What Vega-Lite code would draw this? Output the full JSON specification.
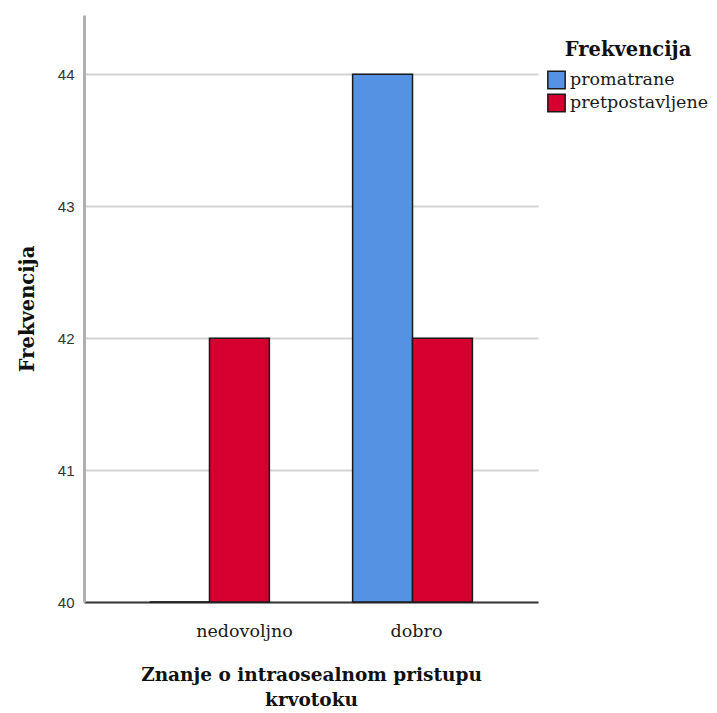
{
  "$schema": "https://vega.github.io/schema/vega-lite/v6.json",
  "autosize": {"type": "none"},
  "width": 454,
  "height": 587,
  "padding": {"left": 84, "top": 15, "right": 179, "bottom": 111},
  "background": "white",
  "config": {"view": {"stroke": null}},
  "data": {
    "values": [
      {"znanje": "nedovoljno", "vrsta": "promatrane", "frekvencija": 40},
      {"znanje": "nedovoljno", "vrsta": "pretpostavljene", "frekvencija": 42},
      {"znanje": "dobro", "vrsta": "promatrane", "frekvencija": 44},
      {"znanje": "dobro", "vrsta": "pretpostavljene", "frekvencija": 42}
    ]
  },
  "mark": {"type": "bar", "stroke": "#1a1a1a", "strokeWidth": 1.5},
  "encoding": {
    "x": {
      "field": "znanje",
      "type": "nominal",
      "sort": ["nedovoljno", "dobro"],
      "scale": {"paddingInner": 0.41, "paddingOuter": 0.323},
      "axis": {
        "title": ["Znanje o intraosealnom pristupu", "krvotoku"],
        "titleFont": "DejaVu Serif",
        "titleFontSize": 18.5,
        "titleFontWeight": "bold",
        "titleColor": "#111111",
        "titlePadding": 26,
        "titleLineHeight": 25,
        "labelFont": "DejaVu Serif",
        "labelFontSize": 17.5,
        "labelColor": "#1a1a1a",
        "labelAngle": 0,
        "labelPadding": 20,
        "labelOffset": {"expr": "datum.value === 'nedovoljno' ? 35 : 4"},
        "ticks": false,
        "domainColor": "#3a3a3a",
        "domainWidth": 2
      }
    },
    "xOffset": {"field": "vrsta", "type": "nominal", "sort": ["promatrane", "pretpostavljene"]},
    "y": {
      "field": "frekvencija",
      "type": "quantitative",
      "scale": {"domain": [40, 44.45], "zero": false, "nice": false},
      "axis": {
        "values": [40, 41, 42, 43, 44],
        "title": "Frekvencija",
        "titleFont": "DejaVu Serif",
        "titleFontSize": 19.5,
        "titleFontWeight": "bold",
        "titleColor": "#111111",
        "titlePadding": 20,
        "labelFont": "Liberation Sans",
        "labelFontSize": 15,
        "labelColor": "#333333",
        "labelPadding": 10,
        "ticks": false,
        "grid": true,
        "gridColor": "#d4d4d4",
        "gridWidth": 2,
        "domainColor": "#b0b0b0",
        "domainWidth": 3
      }
    },
    "y2": {"datum": 40},
    "color": {
      "field": "vrsta",
      "type": "nominal",
      "sort": ["promatrane", "pretpostavljene"],
      "scale": {"domain": ["promatrane", "pretpostavljene"], "range": ["#5592E3", "#D5002F"]},
      "legend": {
        "title": "Frekvencija",
        "titleFont": "DejaVu Serif",
        "titleFontSize": 19.5,
        "titleFontWeight": "bold",
        "titleColor": "#111111",
        "titleAnchor": "middle",
        "titlePadding": 10,
        "labelFont": "DejaVu Serif",
        "labelFontSize": 17.5,
        "labelColor": "#1a1a1a",
        "labelOffset": 4,
        "symbolType": "square",
        "symbolSize": 300,
        "symbolStrokeColor": "#1a1a1a",
        "symbolStrokeWidth": 1.5,
        "rowPadding": -2,
        "orient": "none",
        "legendX": 463,
        "legendY": 26
      }
    }
  }
}
